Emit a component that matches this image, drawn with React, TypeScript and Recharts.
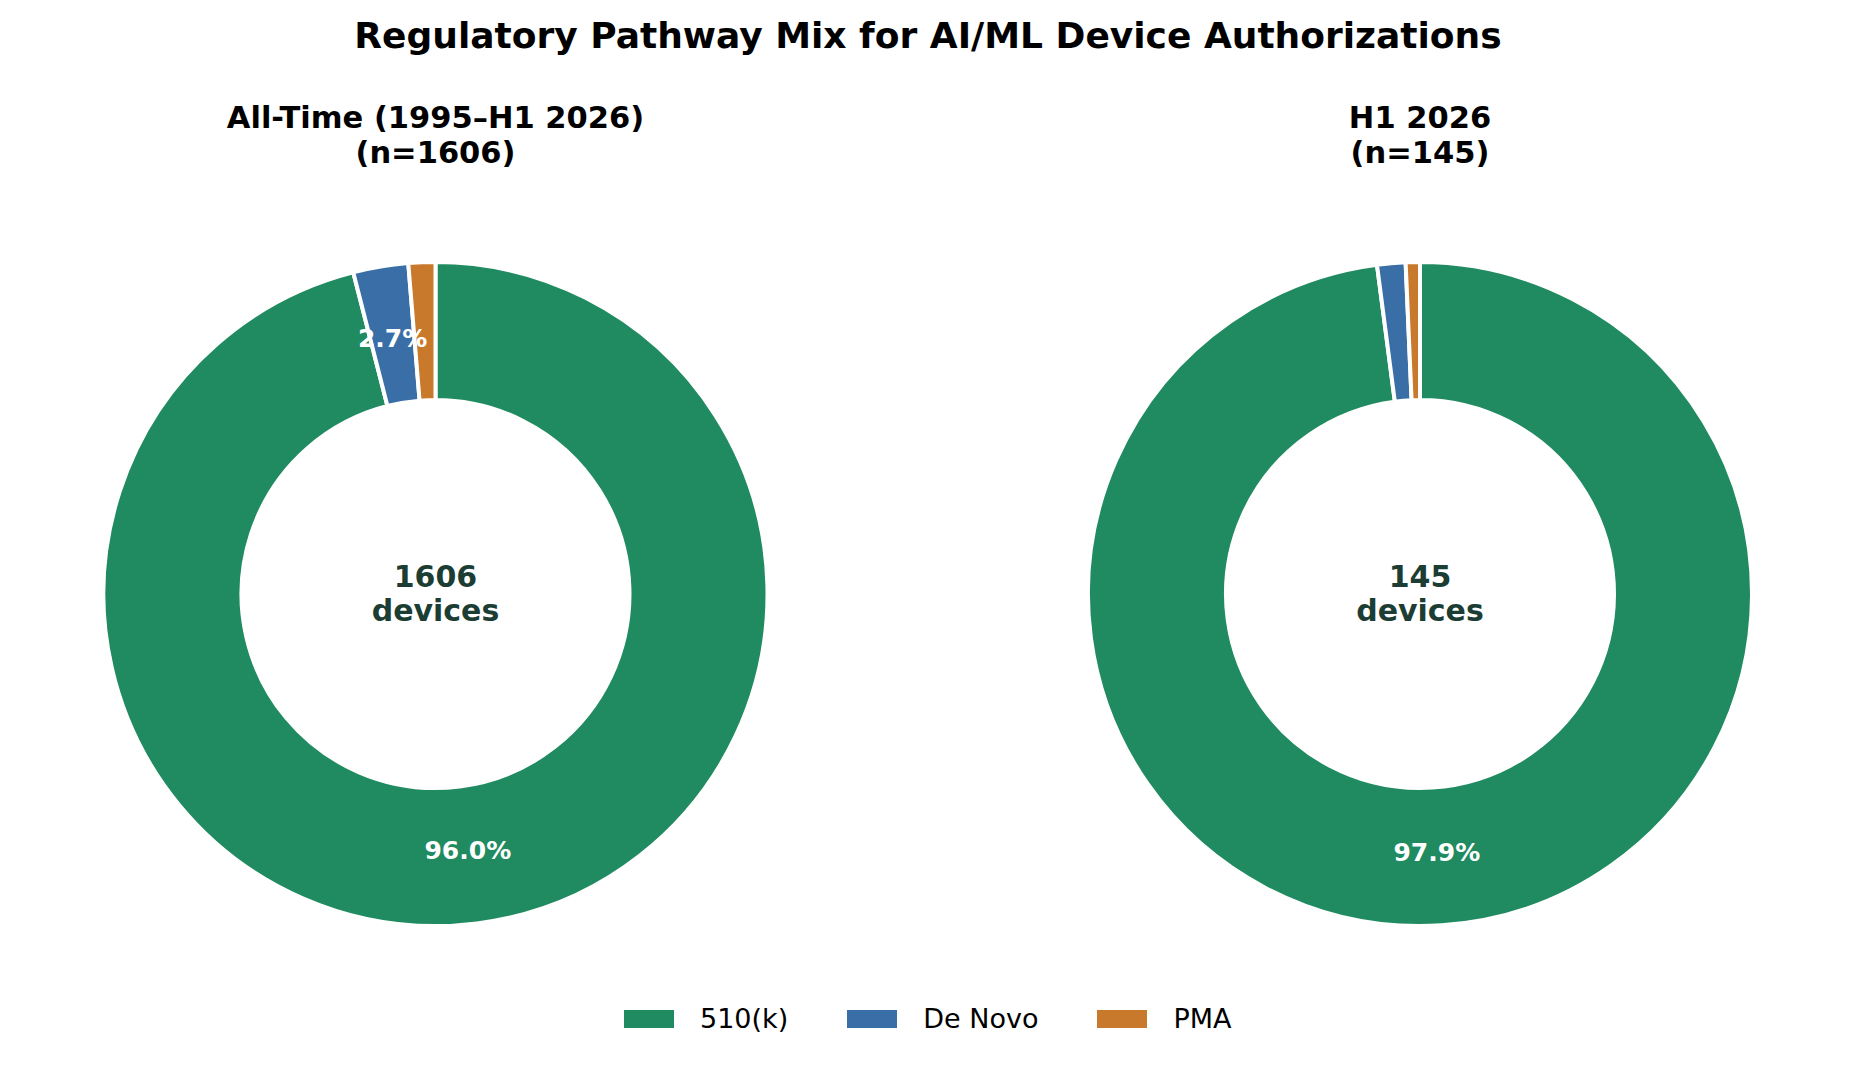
import * as React from "react";
import { PieChart, Pie, Cell, Legend } from "recharts";

const pathways = ["510(k)", "De Novo", "PMA"];
const pathwayColors = ["#208a60", "#3a6ea6", "#c8792b"];
const allTimeCounts = [1542, 43, 21];
const h1Counts = [142, 2, 1];

const panelTitles = [
  ["All-Time (1995–H1 2026)", "(n=1606)"],
  ["H1 2026", "(n=145)"],
];
const centerLabels = [
  ["1606", "devices"],
  ["145", "devices"],
];

const FONT = "'DejaVu Sans', sans-serif";
const RAD = Math.PI / 180;

function toRows(counts: number[]) {
  return pathways.map((name, i) => ({ name, value: counts[i] }));
}

function PctLabel(props: any) {
  const { cx, cy, midAngle, percent } = props;
  if (percent < 0.02) return null;
  const r = 259;
  const x = cx + r * Math.cos(-midAngle * RAD);
  const y = cy + r * Math.sin(-midAngle * RAD);
  return (
    <text
      x={x}
      y={y}
      fill="#ffffff"
      textAnchor="middle"
      dominantBaseline="central"
      fontFamily={FONT}
      fontWeight="bold"
      fontSize={25}
    >
      {(percent * 100).toFixed(1)}%
    </text>
  );
}

function LegendBox() {
  return (
    <div style={{ display: "flex", alignItems: "center", fontFamily: FONT, fontSize: 27, lineHeight: "32px" }}>
      {pathways.map((p, i) => (
        <div key={p} style={{ display: "flex", alignItems: "center", marginRight: 59 }}>
          <span style={{ width: 50, height: 18, background: pathwayColors[i], display: "inline-block", marginRight: 26 }} />
          <span style={{ color: "#000" }}>{p}</span>
        </div>
      ))}
    </div>
  );
}

const centers = [
  { cx: 435.5, cy: 594 },
  { cx: 1420, cy: 594 },
];

export default function App() {
  const datasets = [toRows(allTimeCounts), toRows(h1Counts)];
  return (
    <div style={{ position: "absolute", left: 0, top: 0, width: 1856, height: 1066, background: "#fff" }}>
      <div
        style={{
          position: "absolute",
          left: 0,
          width: 1856,
          top: 34.5,
          transform: "translateY(-50%)",
          textAlign: "center",
          fontFamily: FONT,
          fontWeight: "bold",
          fontSize: 36,
          color: "#000",
        }}
      >
        Regulatory Pathway Mix for AI/ML Device Authorizations
      </div>
      {panelTitles.map((lines, k) => (
        <div
          key={k}
          style={{
            position: "absolute",
            left: centers[k].cx,
            top: 134.5,
            transform: "translate(-50%, -50%)",
            textAlign: "center",
            whiteSpace: "nowrap",
            fontFamily: FONT,
            fontWeight: "bold",
            fontSize: 30.5,
            lineHeight: "35px",
            color: "#000",
          }}
        >
          {lines[0]}
          <br />
          {lines[1]}
        </div>
      ))}
      <PieChart width={1856} height={1066} margin={{ top: 0, right: 0, bottom: 0, left: 0 }}>
        {datasets.map((rows, k) => (
          <Pie
            key={k}
            data={rows}
            dataKey="value"
            nameKey="name"
            cx={centers[k].cx}
            cy={centers[k].cy}
            innerRadius={194}
            outerRadius={332}
            startAngle={90}
            endAngle={-270}
            stroke="#ffffff"
            strokeWidth={4}
            label={PctLabel}
            labelLine={false}
            isAnimationActive={false}
          >
            {rows.map((r, i) => (
              <Cell key={r.name} fill={pathwayColors[i]} />
            ))}
          </Pie>
        ))}
        <Legend
          content={() => <LegendBox />}
          wrapperStyle={{ position: "absolute", left: 624, top: 1003, width: "auto" }}
        />
      </PieChart>
      {centerLabels.map((lines, k) => (
        <div
          key={k}
          style={{
            position: "absolute",
            left: centers[k].cx,
            top: centers[k].cy,
            transform: "translate(-50%, -50%)",
            textAlign: "center",
            whiteSpace: "nowrap",
            fontFamily: FONT,
            fontWeight: "bold",
            fontSize: 30,
            lineHeight: "34px",
            color: "#1b3d33",
          }}
        >
          {lines[0]}
          <br />
          {lines[1]}
        </div>
      ))}
    </div>
  );
}
